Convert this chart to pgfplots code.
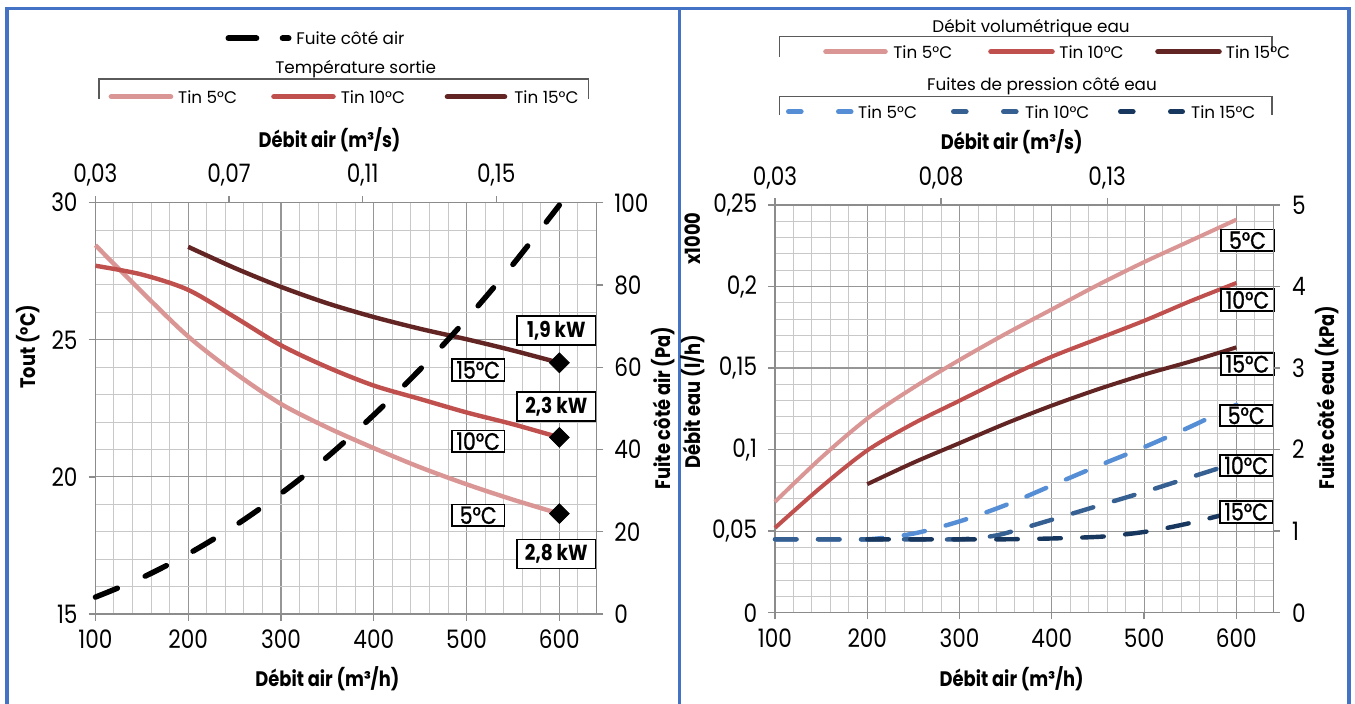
\documentclass[border=0pt]{standalone}
\usepackage{pgfplots}
\pgfplotsset{compat=1.18}
\usepackage{fontspec}
\setmainfont{Poppins}
\newfontfamily\nfont[FakeStretch=0.85]{Poppins}
\newfontfamily\lfont[FakeStretch=0.85, FakeBold=1.2]{Poppins}

\definecolor{c5}{RGB}{217,150,148}
\definecolor{c10}{RGB}{192,80,77}
\definecolor{c15}{RGB}{99,37,35}
\definecolor{b5}{RGB}{85,142,213}
\definecolor{b10}{RGB}{55,96,146}
\definecolor{b15}{RGB}{23,55,94}
\definecolor{frame}{RGB}{68,114,196}
\definecolor{gax}{RGB}{140,140,140}
\definecolor{gmaj}{RGB}{150,150,150}
\definecolor{gmin}{RGB}{200,200,200}
\definecolor{brk}{RGB}{90,90,90}

\pgfplotsset{
  base/.style={
    scale only axis, xmin=100, xmax=640, clip=false,
    tick align=outside, major tick length=3.4pt, minor tick length=0pt,
    axis line style={draw=gax, line width=0.65pt},
    every tick/.style={draw=gax, line width=0.65pt},
    tick label style={font=\nfont\fontsize{12.7}{14}\selectfont, text=black},
    /pgf/number format/assume math mode=true,
  },
  gridA/.style={grid=both,
    major grid style={draw=gmaj, line width=0.6pt},
    minor grid style={draw=gmin, line width=0.5pt}},
}
\tikzset{
  lbl/.style={draw=black, line width=0.9pt, fill=white, inner sep=0pt,
    minimum width=26.3pt, minimum height=10.8pt,
    font=\lfont\fontsize{12}{13}\selectfont},
  kw/.style={lbl, minimum width=39.5pt, minimum height=14.5pt,
    font=\nfont\bfseries\fontsize{10.9}{12}\selectfont},
  ttl/.style={font=\nfont\bfseries\fontsize{10.5}{12}\selectfont, inner sep=0pt},
  leg/.style={font=\fontsize{8.4}{10}\selectfont, inner sep=0pt},
}

\begin{document}
\begin{tikzpicture}
\useasboundingbox (0,0) rectangle (677.5pt,352pt);
\fill[white] (0,0) rectangle (677.5pt,352pt);

% ---------------- LEFT CHART ----------------
\begin{axis}[base, gridA, at={(47.7pt,45pt)}, anchor=south west,
  width=250.55pt, height=205.65pt,
  ymin=15, ymax=30,
  axis x line*=bottom, axis y line*=left,
  xtick={100,200,300,400,500,600}, xticklabels={100,200,300,400,500,600},
  minor xtick={120,140,160,180,220,240,260,280,320,340,360,380,420,440,460,480,520,540,560,580,620,640},
  ytick={15,20,25,30}, yticklabels={15,20,25,30},
  minor ytick={16,17,18,19,21,22,23,24,26,27,28,29},
  xticklabel style={yshift=-1pt}, yticklabel style={xshift=-2pt},
]
\addplot[c5, line width=2.2pt, smooth] coordinates {(100,28.45) (150,26.75) (200,25.12) (250,23.8) (300,22.66) (350,21.8) (400,21.05) (450,20.35) (500,19.73) (550,19.17) (600,18.66)};
\addplot[c10, line width=2.2pt, smooth] coordinates {(100,27.7) (150,27.38) (200,26.82) (250,25.83) (300,24.8) (350,24.0) (400,23.33) (450,22.84) (500,22.35) (550,21.92) (600,21.44)};
\addplot[c15, line width=2.2pt, smooth] coordinates {(200,28.39) (250,27.62) (300,26.93) (350,26.33) (400,25.83) (450,25.4) (500,25.02) (550,24.61) (600,24.16)};
\addplot[only marks, mark=square*, mark size=3.5pt, mark options={rotate=45, fill=black, draw=black}] coordinates {(600,24.16) (600,21.44) (600,18.66)};
\node[kw] at (axis cs:596.7,25.33) {1,9 kW};
\node[kw] at (axis cs:596.7,22.57) {2,3 kW};
\node[kw] at (axis cs:596.7,17.19) {2,8 kW};
\node[lbl] at (axis cs:512.5,23.9) {15°C};
\node[lbl] at (axis cs:512.5,21.3) {10°C};
\node[lbl] at (axis cs:512.5,18.6) {5°C};
\end{axis}

\begin{axis}[base, at={(47.7pt,45pt)}, anchor=south west,
  width=250.55pt, height=205.65pt,
  ymin=0, ymax=100,
  axis x line*=top, axis y line*=right,
  xtick={100,244,388,532}, xticklabels={{0,03},{0,07},{0,11},{0,15}},
  ytick={0,20,40,60,80,100}, yticklabels={0,20,40,60,80,100},
  xticklabel style={yshift=1.2pt}, yticklabel style={xshift=2pt},
]
\addplot[black, line width=2.7pt, line cap=round, dash pattern=on 11.85pt off 15.15pt, smooth] coordinates {(100,4.1) (150,8.8) (200,14.6) (250,21.4) (300,29.3) (350,38.2) (400,48.4) (450,59.5) (500,71.7) (550,85.0) (600,99.4)};
\end{axis}

% ---------------- RIGHT CHART ----------------
\begin{axis}[base, gridA, at={(387.5pt,45.65pt)}, anchor=south west,
  width=249.15pt, height=203.85pt,
  ymin=0, ymax=0.25,
  axis x line*=bottom, axis y line*=left,
  xtick={100,200,300,400,500,600}, xticklabels={100,200,300,400,500,600},
  minor xtick={120,140,160,180,220,240,260,280,320,340,360,380,420,440,460,480,520,540,560,580,620,640},
  ytick={0,0.05,0.1,0.15,0.2,0.25}, yticklabels={0,{0,05},{0,1},{0,15},{0,2},{0,25}},
  minor ytick={0.01,0.02,0.03,0.04,0.06,0.07,0.08,0.09,0.11,0.12,0.13,0.14,0.16,0.17,0.18,0.19,0.21,0.22,0.23,0.24},
  xticklabel style={yshift=-1pt}, yticklabel style={xshift=-2pt},
]
\addplot[c5, line width=2pt, smooth] coordinates {(100,0.068) (150,0.095) (200,0.119) (250,0.138) (300,0.155) (350,0.171) (400,0.186) (450,0.201) (500,0.215) (550,0.228) (600,0.241)};
\addplot[c10, line width=2pt, smooth] coordinates {(100,0.052) (150,0.077) (200,0.0995) (250,0.116) (300,0.13) (350,0.144) (400,0.157) (450,0.168) (500,0.179) (550,0.191) (600,0.2022)};
\addplot[c15, line width=2pt, smooth] coordinates {(200,0.0788) (250,0.092) (300,0.104) (350,0.116) (400,0.127) (450,0.137) (500,0.146) (550,0.154) (600,0.1627)};
\node[lbl] at (axis cs:612,0.2283) {5°C};
\node[lbl] at (axis cs:612,0.1918) {10°C};
\node[lbl] at (axis cs:612,0.1525) {15°C};
\end{axis}

\begin{axis}[base, at={(387.5pt,45.65pt)}, anchor=south west,
  width=249.15pt, height=203.85pt,
  ymin=0, ymax=5,
  axis x line*=top, axis y line*=right,
  xtick={100,280,460}, xticklabels={{0,03},{0,08},{0,13}},
  ytick={0,1,2,3,4,5}, yticklabels={0,1,2,3,4,5},
  xticklabel style={yshift=1.2pt}, yticklabel style={xshift=2.5pt},
]
\addplot[b5, line width=2.2pt, line cap=round, dash pattern=on 10.75pt off 10.75pt, smooth] coordinates {(100,0.9) (150,0.9) (200,0.9) (250,0.97) (300,1.12) (350,1.32) (400,1.56) (450,1.80) (500,2.03) (550,2.28) (600,2.55)};
\addplot[b10, line width=2.2pt, line cap=round, dash pattern=on 10.75pt off 10.75pt, smooth] coordinates {(100,0.9) (150,0.9) (200,0.9) (250,0.9) (300,0.9) (330,0.93) (350,0.975) (400,1.14) (450,1.31) (500,1.48) (550,1.66) (600,1.84)};
\addplot[b15, line width=2.2pt, line cap=round, dash pattern=on 10.75pt off 10.75pt, smooth] coordinates {(200,0.9) (250,0.9) (300,0.9) (350,0.9) (400,0.91) (450,0.93) (475,0.955) (500,0.99) (525,1.04) (550,1.10) (575,1.17) (600,1.24)};
\node[lbl] at (axis cs:610.6,2.418) {5°C};
\node[lbl] at (axis cs:610.6,1.805) {10°C};
\node[lbl] at (axis cs:610.6,1.237) {15°C};
\end{axis}

% ---------------- decorations in pixel coordinates ----------------
\begin{scope}[x=0.5pt, y=-0.5pt, yshift=352pt]
% frames
\draw[frame, line width=1.6pt] (7,712) -- (7,8.3) -- (1349,8.3) -- (1349,712);
\draw[frame, line width=1.6pt] (679.3,8.3) -- (679.3,712);

% left legend
\draw[black, line width=3pt, line cap=round, dash pattern=on 13.9pt off 13.2pt] (228.5,38.3) -- (288.5,38.3);
\node[leg, anchor=west] at (296,38.3) {Fuite côté air};
\node[leg, anchor=base] at (355.6,74) {Température sortie};
\draw[brk, line width=0.6pt] (98.9,99) -- (98.9,79) -- (588.5,79) -- (588.5,99);
\draw[c5, line width=2.8pt, line cap=round] (111.4,96.7) -- (170.5,96.7);
\draw[c10, line width=2.8pt, line cap=round] (274,96.7) -- (333,96.7);
\draw[c15, line width=2.8pt, line cap=round] (447.5,96.7) -- (504.5,96.7);
\node[leg, anchor=west] at (177.8,97.5) {Tin 5°C};
\node[leg, anchor=west] at (340.4,97.5) {Tin 10°C};
\node[leg, anchor=west] at (513.9,97.5) {Tin 15°C};

% left titles
\node[ttl, anchor=base] at (329.6,147.3) {Débit air (m³/s)};
\node[ttl, anchor=base] at (327.4,686.7) {Débit air (m³/h)};
\node[ttl, rotate=90] at (28,346.7) {Tout (°C)};
\node[ttl, rotate=90] at (663.5,408) {Fuite côté air (Pa)};

% right legend
\node[leg, anchor=base] at (1031,32.5) {Débit volumétrique eau};
\draw[brk, line width=0.6pt] (779.7,56.7) -- (779.7,36.7) -- (1272,36.7) -- (1272,52);
\draw[c5, line width=2.8pt, line cap=round] (826,51.7) -- (885,51.7);
\draw[c10, line width=2.8pt, line cap=round] (991,51.7) -- (1052,51.7);
\draw[c15, line width=2.8pt, line cap=round] (1158,51.7) -- (1219,51.7);
\node[leg, anchor=west] at (893,52.5) {Tin 5°C};
\node[leg, anchor=west] at (1059,52.5) {Tin 10°C};
\node[leg, anchor=west] at (1225.5,52.5) {Tin 15°C};

\node[leg, anchor=base] at (1042,91) {Fuites de pression côté eau};
\draw[brk, line width=0.6pt] (779.7,115) -- (779.7,96.7) -- (1272,96.7) -- (1272,115);
\draw[b5, line width=2.5pt, line cap=round, dash pattern=on 6.3pt off 18.7pt] (788.5,111.7) -- (851,111.7);
\draw[b10, line width=2.5pt, line cap=round, dash pattern=on 6.3pt off 18.7pt] (953.5,111.7) -- (1017.5,111.7);
\draw[b15, line width=2.5pt, line cap=round, dash pattern=on 6.3pt off 18.7pt] (1120.5,111.7) -- (1182.5,111.7);
\node[leg, anchor=west] at (857.8,112.5) {Tin 5°C};
\node[leg, anchor=west] at (1024.8,112.5) {Tin 10°C};
\node[leg, anchor=west] at (1190.8,112.5) {Tin 15°C};

% right titles
\node[ttl, anchor=base] at (1011.7,150) {Débit air (m³/s)};
\node[ttl, anchor=base] at (1011.7,686.3) {Débit air (m³/h)};
\node[ttl, rotate=90] at (693,238.5) {x1000};
\node[ttl, rotate=90] at (693,401.7) {Débit eau (l/h)};
\node[ttl, rotate=90] at (1326.7,397.5) {Fuite côté eau (kPa)};
\end{scope}
\end{tikzpicture}
\end{document}
